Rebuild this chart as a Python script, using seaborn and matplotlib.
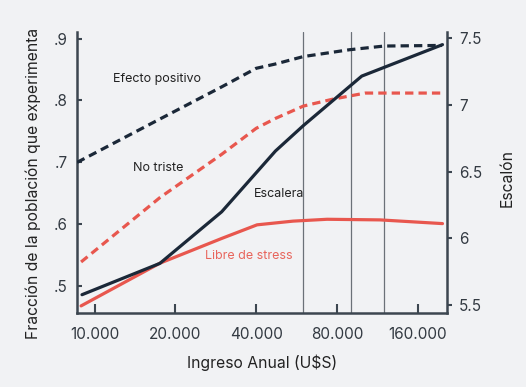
import numpy as np
import pandas as pd
import seaborn as sns
import matplotlib.pyplot as plt
from matplotlib.ticker import FixedLocator, NullLocator

# Datos (ingreso anual en U$S)
ingreso_efecto = [8600, 17500, 29750, 40000, 47200, 60000, 89000, 120000, 197000]
efecto_positivo = [0.700, 0.770, 0.822, 0.852, 0.859, 0.871, 0.882, 0.888, 0.889]

ingreso_triste = [8900, 17500, 29750, 40000, 47200, 60000, 77000, 102000, 197000]
no_triste = [0.539, 0.643, 0.713, 0.755, 0.771, 0.791, 0.802, 0.812, 0.812]

ingreso_stress = [8900, 17500, 29750, 40300, 54900, 73500, 115800, 198000]
libre_stress = [0.468, 0.537, 0.577, 0.599, 0.605, 0.608, 0.607, 0.601]

ingreso_escalera = [8970, 17500, 29750, 47200, 60000, 99000, 198000]
escalera = [5.577, 5.812, 6.199, 6.655, 6.846, 7.217, 7.453]

marcas = [60000, 90000, 120000]

xticks = [10000, 20000, 40000, 80000, 160000]
xtick_labels = ['10.000', '20.000', '40.000', '80.000', '160.000']
yticks_izq = [0.5, 0.6, 0.7, 0.8, 0.9]
ytick_labels_izq = ['.5', '.6', '.7', '.8', '.9']
yticks_der = [5.5, 6, 6.5, 7, 7.5]
ytick_labels_der = ['5.5', '6', '6.5', '7', '7.5']

fondo = '#f1f2f4'
azul = '#1b2838'
rojo = '#e8574e'
eje = '#3c4650'

sns.set_theme(style='ticks')
plt.rcParams['font.family'] = ['Inter', 'DejaVu Sans']

fig = plt.figure(figsize=(5.26, 3.87), dpi=100, facecolor=fondo)
ax = fig.add_axes([0.1464, 0.192, 0.7034, 0.725])
ax.set_facecolor(fondo)
ax.set_xscale('log')
ax2 = ax.twinx()

for m in marcas:
    ax.axvline(m, color='#6b7178', lw=0.9, zorder=1)

sns.lineplot(x=ingreso_efecto, y=efecto_positivo, ax=ax, color=azul, lw=2.3,
             linestyle=(0, (2.6, 1.6)), zorder=3)
sns.lineplot(x=ingreso_triste, y=no_triste, ax=ax, color=rojo, lw=2.3,
             linestyle=(0, (2.6, 1.6)), zorder=3)
sns.lineplot(x=ingreso_stress, y=libre_stress, ax=ax, color=rojo, lw=2.3, zorder=3)
sns.lineplot(x=ingreso_escalera, y=escalera, ax=ax2, color=azul, lw=2.3, zorder=3)

ax.set_xlim(8593, 205800)
ax.set_ylim(0.457, 0.9105)
ax2.set_ylim(5.442, 7.547)

ax.xaxis.set_major_locator(FixedLocator(xticks))
ax.xaxis.set_minor_locator(NullLocator())
ax.set_xticklabels(xtick_labels)
ax.set_yticks(yticks_izq)
ax.set_yticklabels(ytick_labels_izq)
ax2.set_yticks(yticks_der)
ax2.set_yticklabels(ytick_labels_der)

ax.tick_params(axis='x', direction='in', length=6.5, width=1.5, color=eje,
               labelsize=11, labelcolor='#333a42', pad=10.5)
ax.tick_params(axis='y', direction='in', length=3.6, width=1.5, color=eje,
               labelsize=11, labelcolor='#333a42', pad=6.5)
ax2.tick_params(axis='y', direction='out', length=3.8, width=1.5, color=eje,
                labelsize=11, labelcolor='#333a42', pad=5)

for a in (ax, ax2):
    a.spines['top'].set_visible(False)
    for s in a.spines.values():
        s.set_color(eje)
        s.set_linewidth(1.8)
ax.spines['right'].set_visible(False)
ax2.spines['left'].set_visible(False)
ax2.spines['bottom'].set_visible(False)
ax2.set_zorder(ax.get_zorder() + 1)
ax2.patch.set_visible(False)

ax.set_xlabel('Ingreso Anual (U$S)', fontsize=11.3, color='#222', labelpad=8.5)
ax.set_ylabel('Fracción de la población que experimenta', fontsize=11.3,
              color='#222', labelpad=9.5)
ax.yaxis.label.set_y(0.462)
ax2.set_ylabel('Escalón', fontsize=11.3, color='#222', labelpad=12.5)
ax2.yaxis.label.set_y(0.48)

ax.text(11700, 0.834, 'Efecto positivo', fontsize=9, color='#222', ha='left', va='center')
ax.text(13860, 0.691, 'No triste', fontsize=9, color='#222', ha='left', va='center')
ax.text(39250, 0.649, 'Escalera', fontsize=9, color='#222', ha='left', va='center')
ax.text(25850, 0.548, 'Libre de stress', fontsize=9, color='#e8655c', ha='left', va='center')

fig.savefig('out.png', dpi=100, facecolor=fondo)
